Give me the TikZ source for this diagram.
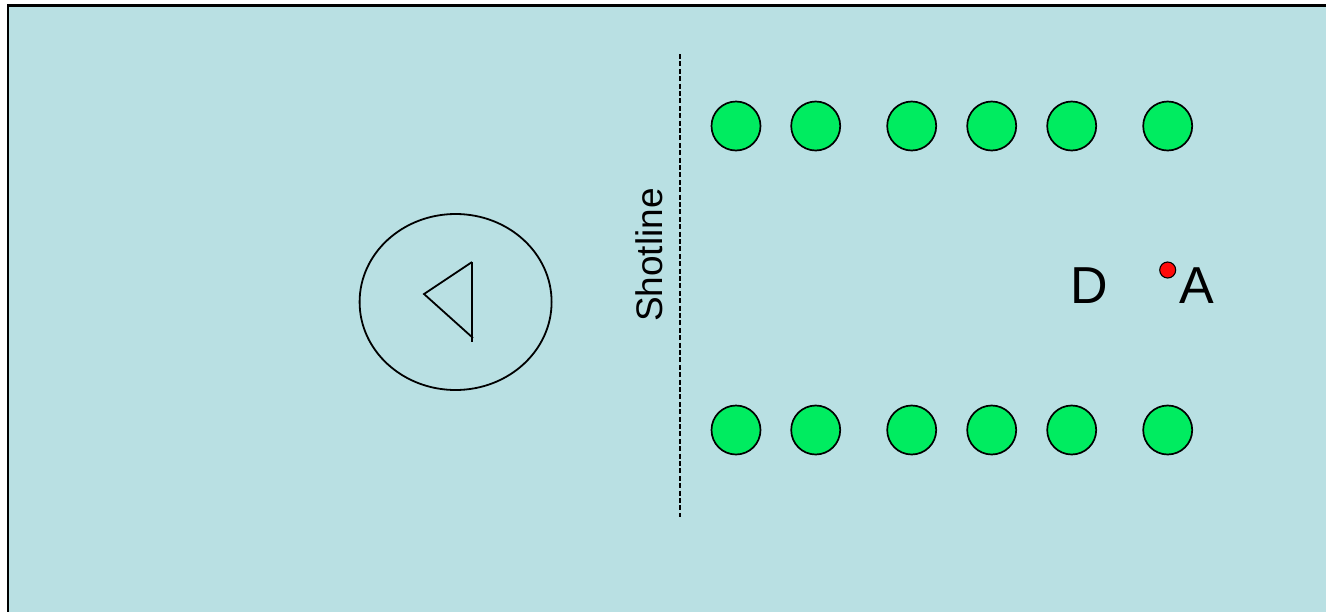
\documentclass[tikz,border=0pt]{standalone}
\usepackage{fontspec}
\setmainfont{Liberation Sans}
\usetikzlibrary{shapes.geometric}
\definecolor{pool}{RGB}{185,224,227}
\definecolor{player}{RGB}{0,236,96}
\definecolor{ball}{RGB}{255,10,10}
\tikzset{
  player/.style={circle, draw=black, line width=1.7pt, fill=player, minimum size=49pt, inner sep=0pt},
  ballmark/.style={circle, draw=black, line width=1.1pt, fill=ball, minimum size=16pt, inner sep=0pt},
  letter/.style={font=\fontsize{52}{52}\selectfont, inner sep=0pt, anchor=base},
  goalring/.style={ellipse, draw=black, line width=1.8pt, minimum width=192pt, minimum height=176pt, inner sep=0pt},
  keeper/.style={line width=1.8pt},
  shotline/.style={draw=black, line width=1.9pt, dash pattern=on 5pt off 2.4pt}
}
\begin{document}
\begin{tikzpicture}[x=1pt,y=-1pt]
  \useasboundingbox (0,0) rectangle (1326,611);
  % playing area
  \fill[pool] (8,5.5) rectangle (1330,615);
  \draw[line width=2.6pt] (8,615) -- (8,5.5) -- (1330,5.5);

  % goal with keeper marker
  \node[goalring] (goal) at (455.6,302) {};
  \draw[keeper] (472,262) -- (424,294) -- (473,338);
  \draw[keeper] (472,262) -- (472,342);

  % shot line
  \coordinate (shotTop) at (680,54);
  \coordinate (shotBot) at (680,517);
  \draw[shotline] (shotTop) -- (shotBot);
  \node[rotate=90, anchor=base, inner sep=0pt, font=\fontsize{37}{37}\selectfont] (shotlabel) at (662.5,255) {Shotline};

  % players, upper row
  \node[player] (u1) at (736,126) {};
  \node[player] (u2) at (815.7,126) {};
  \node[player] (u3) at (911.7,126) {};
  \node[player] (u4) at (991.7,126) {};
  \node[player] (u5) at (1071.7,126) {};
  \node[player] (u6) at (1167.7,126) {};

  % players, lower row
  \node[player] (l1) at (736,430) {};
  \node[player] (l2) at (815.7,430) {};
  \node[player] (l3) at (911.7,430) {};
  \node[player] (l4) at (991.7,430) {};
  \node[player] (l5) at (1071.7,430) {};
  \node[player] (l6) at (1167.7,430) {};

  % defender, ball and attacker
  \node[letter] (defender) at (1089,303) {D};
  \node[ballmark] (ball) at (1167.7,270) {};
  \node[letter] (attacker) at (1197,303) {A};
\end{tikzpicture}
\end{document}
